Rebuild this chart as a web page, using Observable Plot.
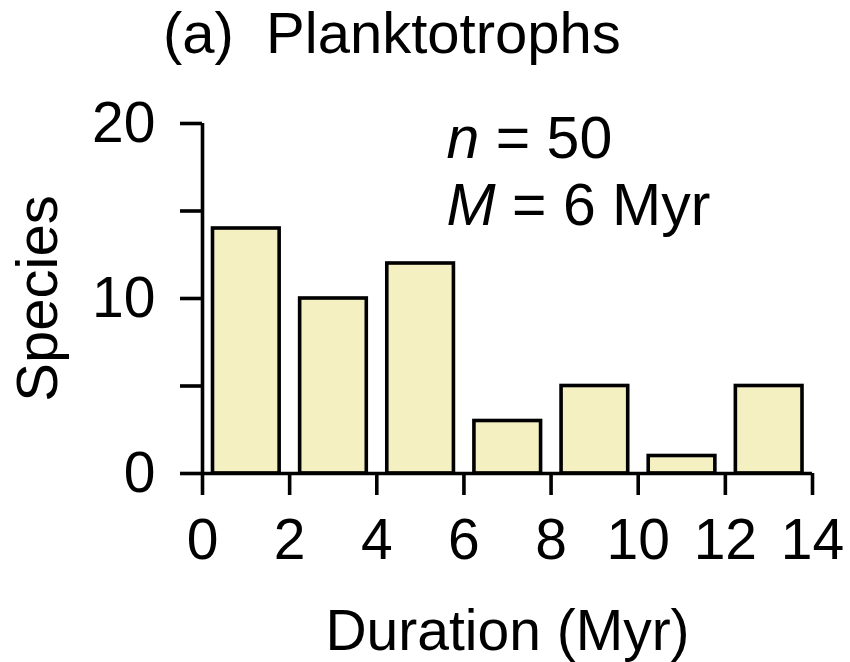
<!DOCTYPE html>
<html>
<head>
<meta charset="utf-8">
<script src="https://cdn.jsdelivr.net/npm/d3@7"></script>
<script src="https://cdn.jsdelivr.net/npm/@observablehq/plot@0.6"></script>
<style>
  html, body { margin: 0; padding: 0; background: #fff; }
  body { width: 850px; height: 662px; overflow: hidden; font-family: "Liberation Sans", Arial, Helvetica, sans-serif; }
  #title { position: relative; height: 80px; }
  #title span { position: absolute; left: 163px; top: 4px; font-size: 58px; line-height: 1; white-space: pre; color: #000; }
</style>
</head>
<body>
<div id="title"><span></span></div>
<div id="chart"></div>
<script>
// ---- data ----
const titleText = "(a)  Planktotrophs";
const binStarts = [0, 2, 4, 6, 8, 10, 12];
const binWidth = 2;
const counts = [14, 10, 12, 3, 5, 1, 5];
const xTicks = [0, 2, 4, 6, 8, 10, 12, 14];
const yTicks = [0, 5, 10, 15, 20];
const yTickLabelled = [0, 10, 20];
const xLabel = "Duration (Myr)";
const yLabel = "Species";
const annotItalic = ["n", "M"];
const annotRest = [" = 50", " = 6 Myr"];

document.querySelector("#title span").textContent = titleText;

const bars = binStarts.map((x0, i) => ({x0, x1: x0 + binWidth, count: counts[i]}));
const annotations = annotItalic.map((it, i) => it + annotRest[i]);

const FONT = "Liberation Sans, Arial, Helvetica, sans-serif";
const SW = 3.6;

const chart = Plot.plot({
  width: 850,
  height: 582,
  marginLeft: 202,
  marginRight: 38,
  marginTop: 43,
  marginBottom: 189,
  x: {domain: [0, 14]},
  y: {domain: [0, 20]},
  style: {fontFamily: FONT, background: "white", color: "black", overflow: "visible"},
  marks: [
    Plot.rectY(bars, {
      x1: "x0", x2: "x1", y: "count",
      fill: "#f4f0c2", stroke: "black", strokeWidth: SW,
      insetLeft: 10.5, insetRight: 10
    }),
    Plot.ruleY([0], {stroke: "black", strokeWidth: SW}),
    Plot.ruleX([0], {y1: 0, y2: 20, stroke: "black", strokeWidth: SW}),
    Plot.axisX({
      ticks: xTicks, tickSize: 22, tickPadding: 23, fontSize: 57,
      stroke: "black", strokeWidth: SW, label: null, tickFormat: d => String(d)
    }),
    Plot.axisY({
      ticks: yTicks, tickSize: 22, tickPadding: 25, fontSize: 57,
      stroke: "black", strokeWidth: SW, label: null,
      tickFormat: d => yTickLabelled.includes(d) ? String(d) : ""
    }),
    Plot.text([yLabel], {frameAnchor: "left", dx: -164, rotate: -90, fontSize: 58, textAnchor: "middle", lineAnchor: "middle", fill: "black"}),
    Plot.text([xLabel], {frameAnchor: "bottom", dy: 158, fontSize: 57, textAnchor: "middle", lineAnchor: "middle", fill: "black"}),
    Plot.text(annotations, {
      x: () => 5.6,
      y: (d, i) => [19.1, 15.3][i],
      textAnchor: "start", lineAnchor: "middle", fontSize: 59, fill: "black"
    })
  ]
});

document.getElementById("chart").appendChild(chart);

// italicise the variable letter in the annotations
d3.select(chart).selectAll("text").each(function () {
  const i = annotations.indexOf(this.textContent);
  if (i >= 0) {
    const sel = d3.select(this);
    sel.text(null);
    sel.append("tspan").attr("font-style", "italic").text(annotItalic[i]);
    sel.append("tspan").text(annotRest[i]);
  }
});
</script>
</body>
</html>
